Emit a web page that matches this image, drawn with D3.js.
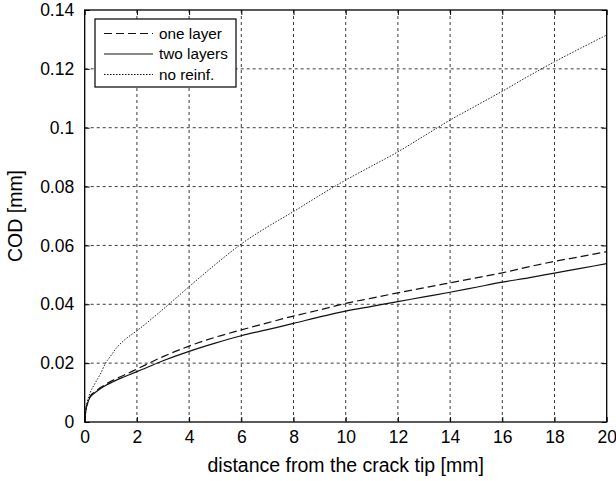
<!DOCTYPE html>
<html>
<head>
<meta charset="utf-8">
<script src="https://cdn.jsdelivr.net/npm/d3@7"></script>
<style>
  html, body { margin: 0; padding: 0; background: #fff; }
  svg { display: block; font-family: "Liberation Sans", Arial, Helvetica, sans-serif; }
</style>
</head>
<body>
<svg id="chart" width="616" height="481"></svg>
<script>
// Distance from the crack tip [mm]
const distance = [0, 0.05, 0.1, 0.2, 0.4, 0.6, 0.8, 1, 1.25, 1.5, 2, 3, 4, 5, 6, 7, 8, 9, 10,
                  11, 12, 13, 14, 15, 16, 17, 18, 19, 20];
// Crack opening displacement [mm] for each configuration
const oneLayer = [0, 0.0045, 0.0063, 0.0086, 0.0103, 0.0117, 0.0128, 0.0138, 0.0149, 0.0159, 0.0180,
                  0.0222, 0.0258, 0.0288, 0.0313, 0.0337, 0.0360, 0.0381, 0.0403, 0.0421, 0.0439,
                  0.0456, 0.0473, 0.0490, 0.0507, 0.0527, 0.0546, 0.0562, 0.0579];
const twoLayers = [0, 0.0043, 0.0060, 0.0083, 0.0100, 0.0113, 0.0124, 0.0133, 0.0144, 0.0153, 0.0171,
                   0.0208, 0.0240, 0.0268, 0.0293, 0.0314, 0.0335, 0.0357, 0.0377, 0.0393, 0.0409,
                   0.0425, 0.0441, 0.0458, 0.0475, 0.0490, 0.0506, 0.0522, 0.0538];
const noReinf = [0, 0.0045, 0.0069, 0.0097, 0.0132, 0.0163, 0.0200, 0.0225, 0.0255, 0.0277, 0.0310,
                 0.0383, 0.0460, 0.0535, 0.0605, 0.0663, 0.0715, 0.0770, 0.0822, 0.0870, 0.0918,
                 0.0972, 0.1026, 0.1075, 0.1124, 0.1175, 0.1224, 0.1270, 0.1315];

const xTicks = [0, 2, 4, 6, 8, 10, 12, 14, 16, 18, 20];
const yTicks = [0, 0.02, 0.04, 0.06, 0.08, 0.1, 0.12, 0.14];
const seriesNames = ["one layer", "two layers", "no reinf."];
const seriesDash = ["8,4", null, "1.5,1.5"];

const W = 616, H = 481;
const margin = { top: 10, right: 9.3, bottom: 59, left: 84.7 };
const iw = W - margin.left - margin.right;
const ih = H - margin.top - margin.bottom;

const svg = d3.select("#chart");
const g = svg.append("g").attr("transform", `translate(${margin.left},${margin.top})`);

const x = d3.scaleLinear().domain([0, 20]).range([0, iw]);
const y = d3.scaleLinear().domain([0, 0.14]).range([ih, 0]);

// Dashed grid
const grid = g.append("g").attr("stroke", "#3a3a3a").attr("stroke-width", 1)
  .attr("stroke-dasharray", "3,3").attr("fill", "none");
xTicks.slice(1, -1).forEach(t => {
  grid.append("line").attr("x1", x(t)).attr("x2", x(t)).attr("y1", 0).attr("y2", ih);
});
yTicks.slice(1, -1).forEach(t => {
  grid.append("line").attr("x1", 0).attr("x2", iw).attr("y1", y(t)).attr("y2", y(t));
});

// Axes with inward ticks, mirrored on the opposite sides
const fmtY = d => d === 0 ? "0" : String(+d.toFixed(2));
const axB = g.append("g").attr("transform", `translate(0,${ih})`)
  .call(d3.axisBottom(x).tickValues(xTicks).tickSizeInner(-5).tickSizeOuter(0).tickPadding(9));
const axL = g.append("g")
  .call(d3.axisLeft(y).tickValues(yTicks).tickFormat(fmtY).tickSizeInner(-5).tickSizeOuter(0).tickPadding(10.5));
const axT = g.append("g")
  .call(d3.axisTop(x).tickValues(xTicks).tickFormat("").tickSizeInner(-5).tickSizeOuter(0));
const axR = g.append("g").attr("transform", `translate(${iw},0)`)
  .call(d3.axisRight(y).tickValues(yTicks).tickFormat("").tickSizeInner(-5).tickSizeOuter(0));
[axB, axL, axT, axR].forEach(a => {
  a.select(".domain").remove();
  a.selectAll("line").attr("stroke", "#000");
  a.selectAll("text").attr("fill", "#000").style("font-size", "17.5px")
    .style("font-family", "'Liberation Sans', Arial, sans-serif");
});

// Curves
const line = d3.line().x((d, i) => x(distance[i])).y(d => y(d)).curve(d3.curveMonotoneX);
[oneLayer, twoLayers, noReinf].forEach((vals, k) => {
  g.append("path").datum(vals)
    .attr("fill", "none")
    .attr("stroke", k === 2 ? "#222" : "#111")
    .attr("stroke-width", k === 2 ? 1 : 1.2)
    .attr("stroke-dasharray", seriesDash[k])
    .attr("d", line);
});

// Frame
g.append("rect").attr("x", 0).attr("y", 0).attr("width", iw).attr("height", ih)
  .attr("fill", "none").attr("stroke", "#000").attr("stroke-width", 1.3);

// Legend
const leg = svg.append("g").attr("transform", "translate(95,19)");
leg.append("rect").attr("width", 141).attr("height", 68)
  .attr("fill", "#fff").attr("stroke", "#000").attr("stroke-width", 1.2);
seriesNames.forEach((name, k) => {
  const ry = 14.5 + k * 20.5;
  leg.append("line").attr("x1", 9).attr("x2", 58).attr("y1", ry).attr("y2", ry)
    .attr("stroke", "#111").attr("stroke-width", k === 2 ? 1 : 1.2)
    .attr("stroke-dasharray", seriesDash[k]);
  leg.append("text").attr("x", 64).attr("y", ry).attr("dy", "0.35em")
    .style("font-size", "15.3px").attr("fill", "#000").text(name);
});

// Axis titles
svg.append("text").attr("x", margin.left + iw / 2).attr("y", 472)
  .attr("text-anchor", "middle").style("font-size", "19.5px").attr("fill", "#000")
  .text("distance from the crack tip [mm]");
svg.append("text").attr("transform", `translate(22,${margin.top + ih / 2}) rotate(-90)`)
  .attr("text-anchor", "middle").style("font-size", "19.5px").attr("fill", "#000")
  .text("COD [mm]");
</script>
</body>
</html>
